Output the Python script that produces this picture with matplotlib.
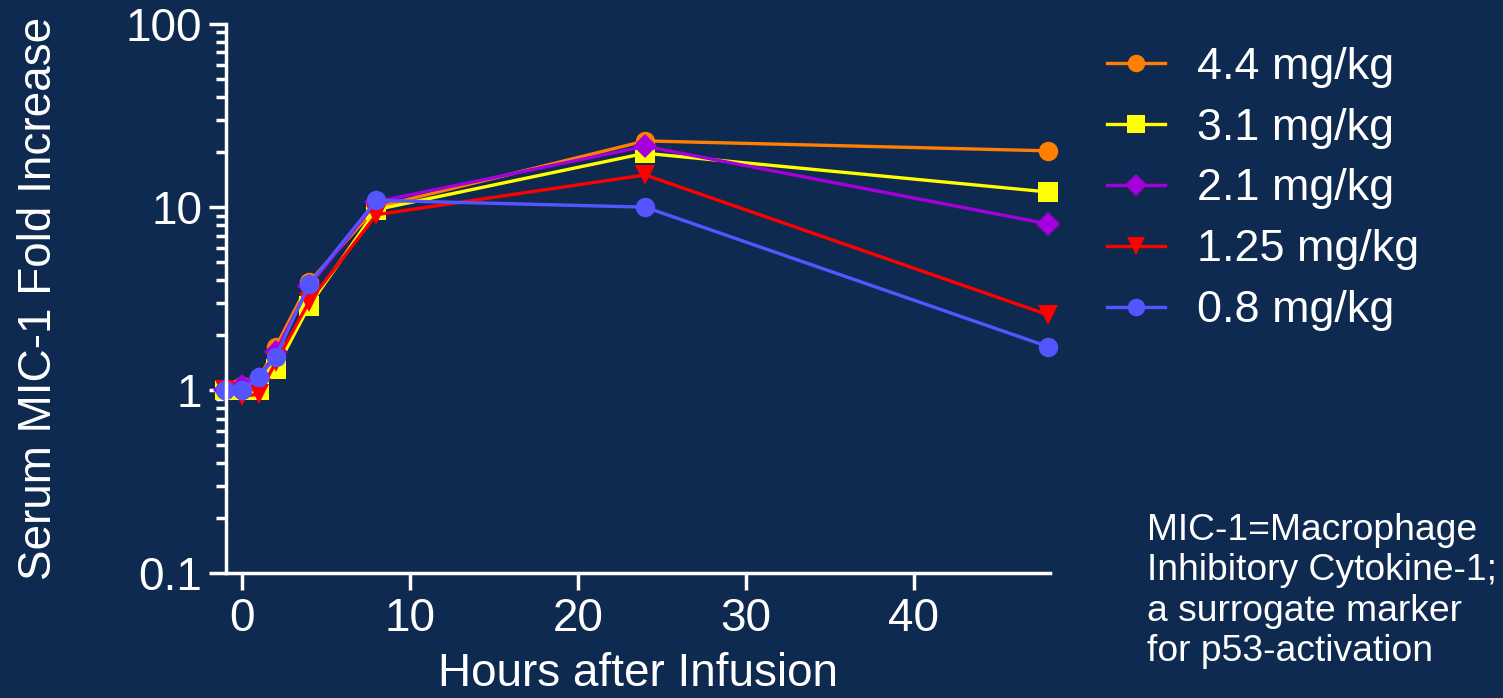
import matplotlib
matplotlib.use("Agg")
import matplotlib.pyplot as plt
from matplotlib.ticker import LogLocator, FixedLocator, NullFormatter, FixedFormatter

plt.rcParams['font.family'] = ['Liberation Sans', 'DejaVu Sans']

hours = [-1, 0, 1, 2, 4, 8, 24, 48]
series_labels = ["4.4 mg/kg", "3.1 mg/kg", "2.1 mg/kg", "1.25 mg/kg", "0.8 mg/kg"]
dose_44 = [1.0, 1.05, 1.15, 1.72, 3.9, 10.0, 23.0, 20.3]
dose_31 = [1.0, 1.0, 1.0, 1.3, 2.9, 9.7, 19.7, 12.1]
dose_21 = [1.0, 1.05, 1.15, 1.62, 3.7, 10.7, 21.5, 8.1]
dose_125 = [1.0, 0.93, 0.95, 1.42, 3.05, 9.1, 15.0, 2.58]
dose_08 = [1.0, 1.0, 1.18, 1.52, 3.8, 10.9, 10.0, 1.73]
series_values = [dose_44, dose_31, dose_21, dose_125, dose_08]

colors = ["#FF7F00", "#FFFF00", "#A400DD", "#FF0000", "#5555FF"]
markers = ["o", "s", "D", "v", "o"]
msizes = [14, 14, 12, 14, 14]

x_ticks = [0, 10, 20, 30, 40]
y_ticks = [0.1, 1, 10, 100]
y_ticklabels = ["0.1", "1", "10", "100"]

bg = "#0F2A50"
fig = plt.figure(figsize=(15.03, 6.98), dpi=100, facecolor=bg)
ax = fig.add_axes([0.1504, 0.1784, 0.5482, 0.7872], facecolor=bg)

handles = []
for vals, c, m, ms, lab in zip(series_values, colors, markers, msizes, series_labels):
    h, = ax.plot(hours, vals, color=c, marker=m, markersize=ms, linewidth=2.4,
                 markeredgewidth=0, label=lab, clip_on=False)
    handles.append(h)

ax.set_yscale("log")
ax.set_ylim(0.1, 100)
ax.set_xlim(-0.95, 48.1)

ax.yaxis.set_major_locator(FixedLocator(y_ticks))
ax.yaxis.set_major_formatter(FixedFormatter(y_ticklabels))
ax.yaxis.set_minor_locator(LogLocator(base=10, subs=range(2, 10)))
ax.yaxis.set_minor_formatter(NullFormatter())
ax.xaxis.set_major_locator(FixedLocator(x_ticks))

for s in ["top", "right"]:
    ax.spines[s].set_visible(False)
for s in ["left", "bottom"]:
    ax.spines[s].set_color("white")
    ax.spines[s].set_linewidth(2.5)

ax.tick_params(axis="both", which="major", colors="white", labelsize=33,
               length=12, width=2.5, direction="out", pad=5)
ax.tick_params(axis="y", which="minor", colors="white", length=7, width=2.5,
               direction="out")

ax.set_xlabel("Hours after Infusion", color="white", fontsize=33, labelpad=8)
ax.set_ylabel("Serum MIC-1 Fold Increase", color="white", fontsize=33, labelpad=47)

leg = fig.legend(handles=handles, labels=series_labels, loc="upper left",
                 bbox_to_anchor=(0.7245, 0.959), frameon=False, fontsize=32.3,
                 handlelength=1.3, handletextpad=0.72, labelspacing=0.445,
                 borderaxespad=0, markerscale=0.9)
for t in leg.get_texts():
    t.set_color("white")

fig.text(0.763, 0.265,
         "MIC-1=Macrophage\nInhibitory Cytokine-1;\na surrogate marker\nfor p53-activation",
         color="white", fontsize=26.8, ha="left", va="top", linespacing=1.2)

fig.savefig("out.png", dpi=100, facecolor=bg)
